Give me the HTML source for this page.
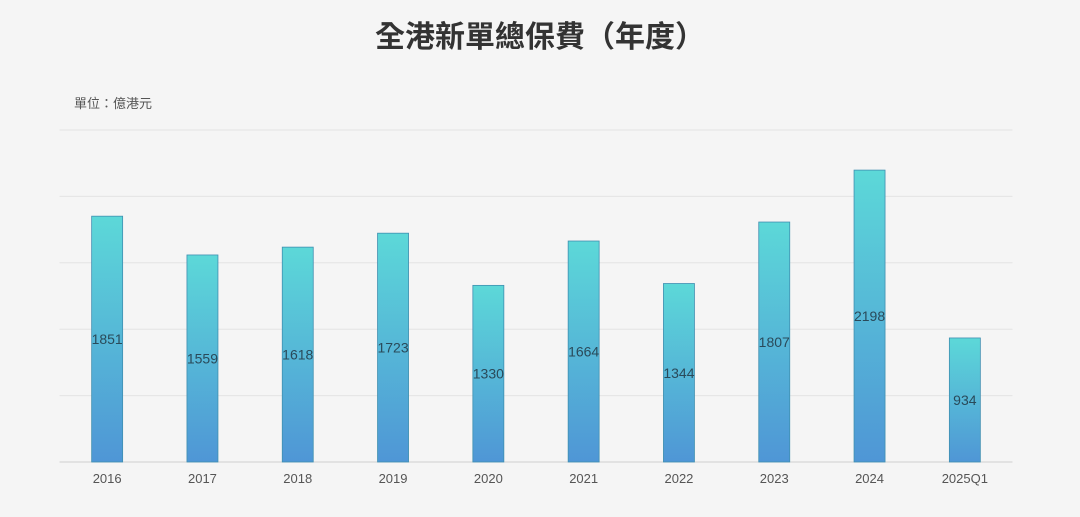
<!DOCTYPE html>
<html><head><meta charset="utf-8">
<style>
html,body{margin:0;padding:0;background:#f5f5f5;}
body{width:1080px;height:517px;overflow:hidden;font-family:"Liberation Sans","Noto Sans CJK TC",sans-serif;}
svg{display:block;}
</style></head>
<body>
<svg id="chart" width="1080" height="517" xmlns="http://www.w3.org/2000/svg">
<defs>
<linearGradient id="g" x1="0" y1="0" x2="0" y2="1">
<stop offset="0" stop-color="#5cd8d8"/>
<stop offset="1" stop-color="#4f96d6"/>
</linearGradient>
</defs>
<rect width="1080" height="517" fill="#f5f5f5"/>
<text x="540" y="47" text-anchor="middle" font-size="30" font-weight="bold" fill="#333" font-family="'Liberation Sans','Noto Sans CJK TC',sans-serif">全港新單總保費（年度）</text>
<text x="74" y="108" font-size="13" fill="#555" font-family="'Liberation Sans','Noto Sans CJK TC',sans-serif">單位：億港元</text>
<g id="grid"></g>
<g id="bars"></g>
<g id="xlabels"></g>
</svg>
<script>
const categories = ["2016","2017","2018","2019","2020","2021","2022","2023","2024","2025Q1"];
const values = [1851,1559,1618,1723,1330,1664,1344,1807,2198,934];
const yTicks = [0,500,1000,1500,2000,2500];

const NS="http://www.w3.org/2000/svg";
const plotLeft=59.5, plotRight=1012.5, plotTop=130, plotBottom=462, yMax=2500;
const band=(plotRight-plotLeft)/categories.length, barW=31;
function xScale(i){return plotLeft+band*i+band/2;}
function yScale(v){return plotBottom-(v/yMax)*(plotBottom-plotTop);}
function mk(tag,attrs,parent){const e=document.createElementNS(NS,tag);for(const k in attrs)e.setAttribute(k,attrs[k]);parent.appendChild(e);return e;}

const grid=document.getElementById('grid');
yTicks.forEach(t=>{
  const y=yScale(t);
  const l=mk('line',{x1:plotLeft,x2:plotRight,y1:y,y2:y,stroke:t===0?'#d0d0d0':'#e4e4e4','stroke-width':1},grid);
  
  
});
const bars=document.getElementById('bars');
const xl=document.getElementById('xlabels');
categories.forEach((c,i)=>{
  const cx=xScale(i), y=yScale(values[i]);
  const r=mk('rect',{x:cx-barW/2,y:y,width:barW,height:plotBottom-y,fill:'url(#g)',stroke:'#3f8fb0','stroke-width':0.8},bars);
  
  
  const t=mk('text',{x:cx,y:(y+plotBottom)/2+5,'text-anchor':'middle','font-size':14,fill:'#2a4a5a'},bars);
  t.textContent=values[i];
  
  
  const xt=mk('text',{x:cx,y:483,'text-anchor':'middle','font-size':13,fill:'#555'},xl);
  xt.textContent=c;
  
  
});
</script>
</body></html>
